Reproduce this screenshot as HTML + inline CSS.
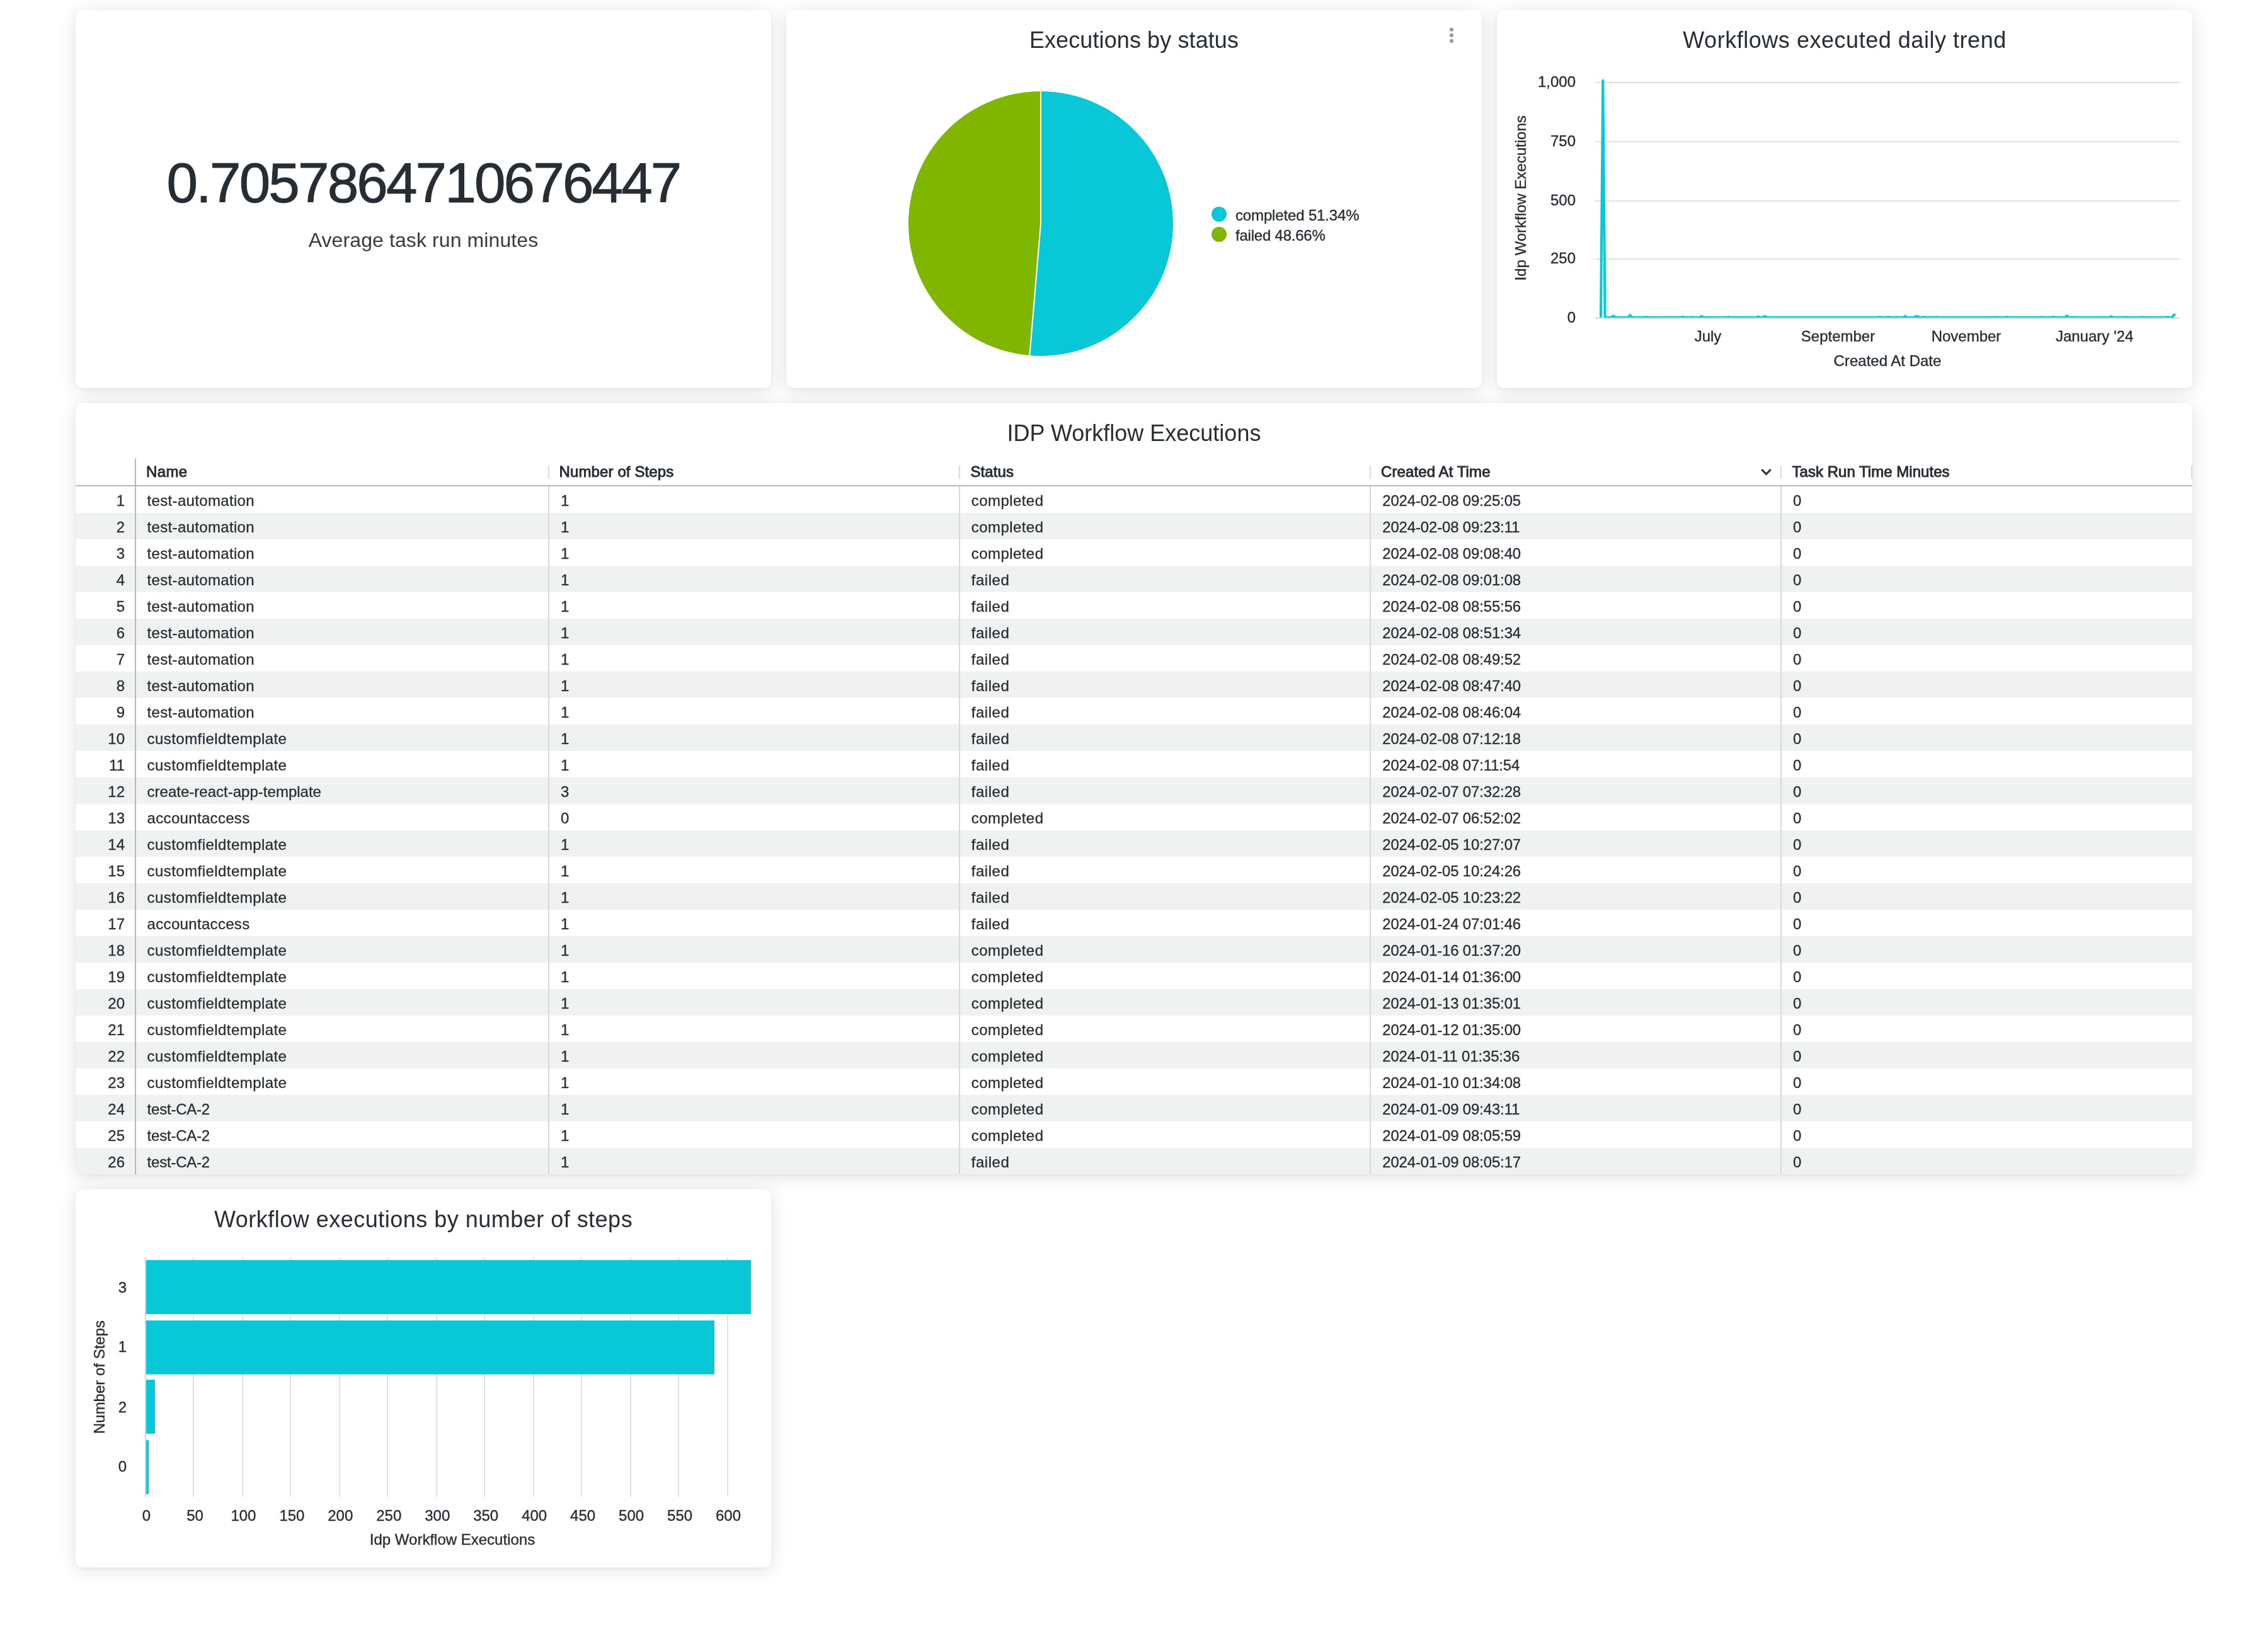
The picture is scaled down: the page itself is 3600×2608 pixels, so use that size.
<!DOCTYPE html>
<html lang="en">
<head>
<meta charset="utf-8">
<title>IDP Workflow Executions</title>
<style>
html,body{margin:0;padding:0;}
body{width:3600px;height:2608px;background:#fff;position:relative;overflow:hidden;font-family:"Liberation Sans",sans-serif;color:#262d33;}
.card{will-change:transform;position:absolute;background:#fff;border-radius:10.5px;box-shadow:0 4px 28px rgba(0,0,0,.12),0 2px 8px rgba(0,0,0,.04);overflow:hidden;}
.title{position:absolute;left:0;right:0;text-align:center;font-size:36px;line-height:44px;color:#262d33;white-space:nowrap;}
.abs{position:absolute;white-space:nowrap;}
svg{position:absolute;left:0;top:0;overflow:visible;}
svg text{font-family:"Liberation Sans",sans-serif;fill:#262d33;stroke:#262d33;stroke-width:.35px;}
/* single value */
#sv-num{left:0;right:0;top:214px;text-align:center;font-size:89px;line-height:120px;color:#262d33;letter-spacing:-2.84px;-webkit-text-stroke:1px #262d33;}
#sv-sub{left:0;right:0;top:341px;text-align:center;font-size:32px;line-height:48px;color:#343c42;letter-spacing:.1px;}
/* table */
.th{position:absolute;top:88px;height:42px;line-height:42px;font-size:24px;font-weight:normal;-webkit-text-stroke:.9px #262d33;color:#262d33;white-space:nowrap;}
.hsep{position:absolute;width:2px;background:#c1c6cc;}
.r{position:absolute;left:0;width:3360px;height:42px;line-height:42px;font-size:24px;color:#262d33;white-space:nowrap;}
.r.odd{background:#f0f1f1;}
.r span{position:absolute;top:2px;letter-spacing:.3px;-webkit-text-stroke:.3px #262d33;}
.c0{left:0;width:78px;text-align:right;letter-spacing:0 !important;}
.c1{left:113.6px;}
.c2{left:770px;}
.c3{left:1421.7px;}
.c4{left:2074.2px;}
.c5{left:2726px;}
.vsep{position:absolute;width:2px;background:#d6dadd;top:132px;bottom:0;}
.vsep.first{background:#b3b9bd;top:88px;}
.htick{position:absolute;width:2px;background:#d9dcdf;top:99px;height:21px;}

#t2{letter-spacing:.1px}
#t3{letter-spacing:.53px}
#t5{letter-spacing:.49px}
@media (max-width:1900px){html{zoom:.5}}

</style>
</head>
<body>
<div class="card" id="c1" style="left:120px;top:16px;width:1104px;height:600px">
  <div class="abs" id="sv-num">0.7057864710676447</div>
  <div class="abs" id="sv-sub">Average task run minutes</div>
</div>

<div class="card" id="c2" style="left:1248px;top:16px;width:1104px;height:600px">
  <div class="title" id="t2" style="top:26px">Executions by status</div>
  <svg width="1104" height="600" viewBox="0 0 1104 600">
    <circle cx="1056" cy="30.9" r="3" fill="#939ba0"/><circle cx="1056" cy="39.9" r="3" fill="#939ba0"/><circle cx="1056" cy="49" r="3" fill="#939ba0"/>
    <path d="M404,339 L404,129 A210,210 0 1 1 386.34,548.26 Z" fill="#08c7d7"/>
<path d="M404,339 L386.34,548.26 A210,210 0 0 1 404,129 Z" fill="#80b500"/>
<path d="M404,128 L404,339 L386.26,549.25" fill="none" stroke="#fff" stroke-width="2" stroke-linejoin="round"/>
    <circle cx="687" cy="324" r="12" fill="#08c7d7"/>
    <circle cx="687" cy="356" r="12" fill="#80b500"/>
    <text x="713" y="333.8" font-size="24" letter-spacing="-0.15">completed 51.34%</text>
    <text x="713" y="366" font-size="24" letter-spacing="-0.22">failed 48.66%</text>
  </svg>
</div>

<div class="card" id="c3" style="left:2376px;top:16px;width:1104px;height:600px">
  <div class="title" id="t3" style="top:26px">Workflows executed daily trend</div>
  <svg width="1104" height="600" viewBox="0 0 1104 600" id="linechart"><rect x="156" y="114.00" width="928" height="2" fill="#e2e2e2"/>
<rect x="156" y="208.00" width="928" height="2" fill="#e2e2e2"/>
<rect x="156" y="302.00" width="928" height="2" fill="#e2e2e2"/>
<rect x="156" y="394.00" width="928" height="2" fill="#e2e2e2"/>
<text x="125" y="122.0" font-size="24" text-anchor="end">1,000</text>
<text x="125" y="216.0" font-size="24" text-anchor="end">750</text>
<text x="125" y="310.0" font-size="24" text-anchor="end">500</text>
<text x="125" y="402.0" font-size="24" text-anchor="end">250</text>
<text x="125" y="496.0" font-size="24" text-anchor="end">0</text>
<text transform="translate(45.7,298.4) rotate(-90)" font-size="24" text-anchor="middle">Idp Workflow Executions</text>
<text x="335.0" y="525.7" font-size="24" text-anchor="middle">July</text>
<text x="541.5" y="525.7" font-size="24" text-anchor="middle">September</text>
<text x="745.0" y="525.7" font-size="24" text-anchor="middle">November</text>
<text x="948.6" y="525.7" font-size="24" text-anchor="middle">January '24</text>
<text x="620" y="564.5" font-size="24" text-anchor="middle">Created At Date</text>
<path d="M165.0,486.2 L168.3,111.7 L171.6,488.0 L181.7,488.0 L185.0,485.4 L188.3,488.0 L208.1,488.0 L211.4,484.2 L214.7,488.0 L233.7,488.0 L237.0,487.3 L240.3,488.0 L274.7,488.0 L278.0,487.7 L281.3,488.0 L291.7,488.0 L295.0,487.3 L298.3,488.0 L305.2,488.0 L308.5,487.6 L311.8,488.0 L321.7,488.0 L325.0,486.1 L328.3,488.0 L364.7,488.0 L368.0,487.3 L371.3,488.0 L372.2,488.0 L375.5,487.7 L378.8,488.0 L411.7,488.0 L415.0,486.5 L418.3,488.0 L421.7,488.0 L425.0,485.8 L428.3,488.0 L604.7,488.0 L608.0,487.2 L611.3,488.0 L618.2,488.0 L621.5,487.2 L624.8,488.0 L631.7,488.0 L635.0,487.6 L638.3,488.0 L645.0,488.0 L648.3,485.8 L651.6,488.0 L661.7,488.0 L665.0,486.3 L668.4,486.3 L671.7,488.0 L674.7,488.0 L678.0,487.2 L681.3,488.0 L695.1,488.0 L698.4,487.4 L701.7,488.0 L787.7,488.0 L791.0,487.4 L794.3,488.0 L806.7,488.0 L810.0,487.3 L813.3,488.0 L861.7,488.0 L865.0,487.4 L868.3,488.0 L880.1,488.0 L883.4,487.3 L886.7,488.0 L901.5,488.0 L904.8,485.3 L908.1,488.0 L909.7,488.0 L913.0,487.5 L916.3,488.0 L971.7,488.0 L975.0,486.4 L978.3,488.0 L994.7,488.0 L998.0,487.6 L1001.3,488.0 L1021.2,488.0 L1024.5,487.6 L1027.8,488.0 L1061.4,488.0 L1064.7,487.2 L1068.0,488.0 L1071.5,487.7 L1075.3,483.4" fill="none" stroke="#08c7d7" stroke-width="4" stroke-linejoin="round" stroke-linecap="round"/>
<rect x="156" y="488" width="928" height="2" fill="#ccd6eb"/></svg>
</div>

<div class="card" id="c4" style="left:120px;top:640px;width:3360px;height:1224px">
  <div class="title" id="t4" style="top:26px">IDP Workflow Executions</div>
  <div class="th" style="left:112px;letter-spacing:.37px">Name</div>
  <div class="th" style="left:767.6px;letter-spacing:.11px">Number of Steps</div>
  <div class="th" style="left:1420.4px;letter-spacing:.1px">Status</div>
  <div class="th" style="left:2072px;letter-spacing:.1px">Created At Time</div>
  <div class="th" style="left:2724.5px;letter-spacing:.03px">Task Run Time Minutes</div>
  <div style="position:absolute;left:0;right:0;top:130px;height:2px;background:#b3b9bd"></div>

<div class="r" style="top:132px"><span class="c0">1</span><span class="c1" style="letter-spacing:0.33px">test-automation</span><span class="c2">1</span><span class="c3" style="letter-spacing:0.45px">completed</span><span class="c4" style="letter-spacing:-0.16px">2024-02-08 09:25:05</span><span class="c5">0</span></div>
<div class="r odd" style="top:174px"><span class="c0">2</span><span class="c1" style="letter-spacing:0.33px">test-automation</span><span class="c2">1</span><span class="c3" style="letter-spacing:0.45px">completed</span><span class="c4" style="letter-spacing:-0.16px">2024-02-08 09:23:11</span><span class="c5">0</span></div>
<div class="r" style="top:216px"><span class="c0">3</span><span class="c1" style="letter-spacing:0.33px">test-automation</span><span class="c2">1</span><span class="c3" style="letter-spacing:0.45px">completed</span><span class="c4" style="letter-spacing:-0.16px">2024-02-08 09:08:40</span><span class="c5">0</span></div>
<div class="r odd" style="top:258px"><span class="c0">4</span><span class="c1" style="letter-spacing:0.33px">test-automation</span><span class="c2">1</span><span class="c3" style="letter-spacing:0.56px">failed</span><span class="c4" style="letter-spacing:-0.16px">2024-02-08 09:01:08</span><span class="c5">0</span></div>
<div class="r" style="top:300px"><span class="c0">5</span><span class="c1" style="letter-spacing:0.33px">test-automation</span><span class="c2">1</span><span class="c3" style="letter-spacing:0.56px">failed</span><span class="c4" style="letter-spacing:-0.16px">2024-02-08 08:55:56</span><span class="c5">0</span></div>
<div class="r odd" style="top:342px"><span class="c0">6</span><span class="c1" style="letter-spacing:0.33px">test-automation</span><span class="c2">1</span><span class="c3" style="letter-spacing:0.56px">failed</span><span class="c4" style="letter-spacing:-0.16px">2024-02-08 08:51:34</span><span class="c5">0</span></div>
<div class="r" style="top:384px"><span class="c0">7</span><span class="c1" style="letter-spacing:0.33px">test-automation</span><span class="c2">1</span><span class="c3" style="letter-spacing:0.56px">failed</span><span class="c4" style="letter-spacing:-0.16px">2024-02-08 08:49:52</span><span class="c5">0</span></div>
<div class="r odd" style="top:426px"><span class="c0">8</span><span class="c1" style="letter-spacing:0.33px">test-automation</span><span class="c2">1</span><span class="c3" style="letter-spacing:0.56px">failed</span><span class="c4" style="letter-spacing:-0.16px">2024-02-08 08:47:40</span><span class="c5">0</span></div>
<div class="r" style="top:468px"><span class="c0">9</span><span class="c1" style="letter-spacing:0.33px">test-automation</span><span class="c2">1</span><span class="c3" style="letter-spacing:0.56px">failed</span><span class="c4" style="letter-spacing:-0.16px">2024-02-08 08:46:04</span><span class="c5">0</span></div>
<div class="r odd" style="top:510px"><span class="c0">10</span><span class="c1" style="letter-spacing:0.44px">customfieldtemplate</span><span class="c2">1</span><span class="c3" style="letter-spacing:0.56px">failed</span><span class="c4" style="letter-spacing:-0.16px">2024-02-08 07:12:18</span><span class="c5">0</span></div>
<div class="r" style="top:552px"><span class="c0">11</span><span class="c1" style="letter-spacing:0.44px">customfieldtemplate</span><span class="c2">1</span><span class="c3" style="letter-spacing:0.56px">failed</span><span class="c4" style="letter-spacing:-0.16px">2024-02-08 07:11:54</span><span class="c5">0</span></div>
<div class="r odd" style="top:594px"><span class="c0">12</span><span class="c1" style="letter-spacing:0.01px">create-react-app-template</span><span class="c2">3</span><span class="c3" style="letter-spacing:0.56px">failed</span><span class="c4" style="letter-spacing:-0.16px">2024-02-07 07:32:28</span><span class="c5">0</span></div>
<div class="r" style="top:636px"><span class="c0">13</span><span class="c1" style="letter-spacing:0.32px">accountaccess</span><span class="c2">0</span><span class="c3" style="letter-spacing:0.45px">completed</span><span class="c4" style="letter-spacing:-0.16px">2024-02-07 06:52:02</span><span class="c5">0</span></div>
<div class="r odd" style="top:678px"><span class="c0">14</span><span class="c1" style="letter-spacing:0.44px">customfieldtemplate</span><span class="c2">1</span><span class="c3" style="letter-spacing:0.56px">failed</span><span class="c4" style="letter-spacing:-0.16px">2024-02-05 10:27:07</span><span class="c5">0</span></div>
<div class="r" style="top:720px"><span class="c0">15</span><span class="c1" style="letter-spacing:0.44px">customfieldtemplate</span><span class="c2">1</span><span class="c3" style="letter-spacing:0.56px">failed</span><span class="c4" style="letter-spacing:-0.16px">2024-02-05 10:24:26</span><span class="c5">0</span></div>
<div class="r odd" style="top:762px"><span class="c0">16</span><span class="c1" style="letter-spacing:0.44px">customfieldtemplate</span><span class="c2">1</span><span class="c3" style="letter-spacing:0.56px">failed</span><span class="c4" style="letter-spacing:-0.16px">2024-02-05 10:23:22</span><span class="c5">0</span></div>
<div class="r" style="top:804px"><span class="c0">17</span><span class="c1" style="letter-spacing:0.32px">accountaccess</span><span class="c2">1</span><span class="c3" style="letter-spacing:0.56px">failed</span><span class="c4" style="letter-spacing:-0.16px">2024-01-24 07:01:46</span><span class="c5">0</span></div>
<div class="r odd" style="top:846px"><span class="c0">18</span><span class="c1" style="letter-spacing:0.44px">customfieldtemplate</span><span class="c2">1</span><span class="c3" style="letter-spacing:0.45px">completed</span><span class="c4" style="letter-spacing:-0.16px">2024-01-16 01:37:20</span><span class="c5">0</span></div>
<div class="r" style="top:888px"><span class="c0">19</span><span class="c1" style="letter-spacing:0.44px">customfieldtemplate</span><span class="c2">1</span><span class="c3" style="letter-spacing:0.45px">completed</span><span class="c4" style="letter-spacing:-0.16px">2024-01-14 01:36:00</span><span class="c5">0</span></div>
<div class="r odd" style="top:930px"><span class="c0">20</span><span class="c1" style="letter-spacing:0.44px">customfieldtemplate</span><span class="c2">1</span><span class="c3" style="letter-spacing:0.45px">completed</span><span class="c4" style="letter-spacing:-0.16px">2024-01-13 01:35:01</span><span class="c5">0</span></div>
<div class="r" style="top:972px"><span class="c0">21</span><span class="c1" style="letter-spacing:0.44px">customfieldtemplate</span><span class="c2">1</span><span class="c3" style="letter-spacing:0.45px">completed</span><span class="c4" style="letter-spacing:-0.16px">2024-01-12 01:35:00</span><span class="c5">0</span></div>
<div class="r odd" style="top:1014px"><span class="c0">22</span><span class="c1" style="letter-spacing:0.44px">customfieldtemplate</span><span class="c2">1</span><span class="c3" style="letter-spacing:0.45px">completed</span><span class="c4" style="letter-spacing:-0.16px">2024-01-11 01:35:36</span><span class="c5">0</span></div>
<div class="r" style="top:1056px"><span class="c0">23</span><span class="c1" style="letter-spacing:0.44px">customfieldtemplate</span><span class="c2">1</span><span class="c3" style="letter-spacing:0.45px">completed</span><span class="c4" style="letter-spacing:-0.16px">2024-01-10 01:34:08</span><span class="c5">0</span></div>
<div class="r odd" style="top:1098px"><span class="c0">24</span><span class="c1" style="letter-spacing:-0.22px">test-CA-2</span><span class="c2">1</span><span class="c3" style="letter-spacing:0.45px">completed</span><span class="c4" style="letter-spacing:-0.16px">2024-01-09 09:43:11</span><span class="c5">0</span></div>
<div class="r" style="top:1140px"><span class="c0">25</span><span class="c1" style="letter-spacing:-0.22px">test-CA-2</span><span class="c2">1</span><span class="c3" style="letter-spacing:0.45px">completed</span><span class="c4" style="letter-spacing:-0.16px">2024-01-09 08:05:59</span><span class="c5">0</span></div>
<div class="r odd" style="top:1182px"><span class="c0">26</span><span class="c1" style="letter-spacing:-0.22px">test-CA-2</span><span class="c2">1</span><span class="c3" style="letter-spacing:0.56px">failed</span><span class="c4" style="letter-spacing:-0.16px">2024-01-09 08:05:17</span><span class="c5">0</span></div>
  <div class="vsep first" style="left:94px"></div>
  <div class="vsep" style="left:750px"></div>
  <div class="vsep" style="left:1402px"></div>
  <div class="vsep" style="left:2054px"></div>
  <div class="vsep" style="left:2706px"></div>
  <div class="htick" style="left:750px"></div>
  <div class="htick" style="left:1402px"></div>
  <div class="htick" style="left:2054px"></div>
  <div class="htick" style="left:2706px"></div>
  <div class="htick" style="left:3358px"></div>
  <svg width="3360" height="140" viewBox="0 0 3360 140"><path d="M2676.2,105.2 L2683.5,112.6 L2690.8,105.2" fill="none" stroke="#262d33" stroke-width="3" stroke-linecap="butt" stroke-linejoin="miter"/></svg>
</div>

<div class="card" id="c5" style="left:120px;top:1888px;width:1104px;height:600px">
  <div class="title" id="t5" style="top:26px">Workflow executions by number of steps</div>
  <svg width="1104" height="600" viewBox="0 0 1104 600" id="barchart"><rect x="186" y="108" width="2" height="380" fill="#e2e2e2"/>
<rect x="264" y="108" width="2" height="380" fill="#e2e2e2"/>
<rect x="340" y="108" width="2" height="380" fill="#e2e2e2"/>
<rect x="418" y="108" width="2" height="380" fill="#e2e2e2"/>
<rect x="494" y="108" width="2" height="380" fill="#e2e2e2"/>
<rect x="572" y="108" width="2" height="380" fill="#e2e2e2"/>
<rect x="648" y="108" width="2" height="380" fill="#e2e2e2"/>
<rect x="726" y="108" width="2" height="380" fill="#e2e2e2"/>
<rect x="802" y="108" width="2" height="380" fill="#e2e2e2"/>
<rect x="880" y="108" width="2" height="380" fill="#e2e2e2"/>
<rect x="956" y="108" width="2" height="380" fill="#e2e2e2"/>
<rect x="1034" y="108" width="2" height="380" fill="#e2e2e2"/>
<rect x="110" y="108" width="2" height="380" fill="#ccd6eb"/>
<rect x="112" y="112.2" width="960" height="85.8" fill="#08c7d7"/>
<text x="81" y="164" font-size="24" text-anchor="end">3</text>
<rect x="112" y="208" width="902" height="85.6" fill="#08c7d7"/>
<text x="81" y="258" font-size="24" text-anchor="end">1</text>
<rect x="112" y="302.1" width="14" height="85.8" fill="#08c7d7"/>
<text x="81" y="353.8" font-size="24" text-anchor="end">2</text>
<rect x="112" y="398.1" width="4" height="85.5" fill="#08c7d7"/>
<text x="81" y="448.2" font-size="24" text-anchor="end">0</text>
<text x="112.5" y="526.3" font-size="24" text-anchor="middle">0</text>
<text x="189.5" y="526.3" font-size="24" text-anchor="middle">50</text>
<text x="266.4" y="526.3" font-size="24" text-anchor="middle">100</text>
<text x="343.4" y="526.3" font-size="24" text-anchor="middle">150</text>
<text x="420.3" y="526.3" font-size="24" text-anchor="middle">200</text>
<text x="497.3" y="526.3" font-size="24" text-anchor="middle">250</text>
<text x="574.3" y="526.3" font-size="24" text-anchor="middle">300</text>
<text x="651.2" y="526.3" font-size="24" text-anchor="middle">350</text>
<text x="728.2" y="526.3" font-size="24" text-anchor="middle">400</text>
<text x="805.1" y="526.3" font-size="24" text-anchor="middle">450</text>
<text x="882.1" y="526.3" font-size="24" text-anchor="middle">500</text>
<text x="959.1" y="526.3" font-size="24" text-anchor="middle">550</text>
<text x="1036.0" y="526.3" font-size="24" text-anchor="middle">600</text>
<text x="598" y="563.5" font-size="24" text-anchor="middle">Idp Workflow Executions</text>
<text transform="translate(46,298) rotate(-90)" font-size="24" text-anchor="middle">Number of Steps</text></svg>
</div>

</body>
</html>
